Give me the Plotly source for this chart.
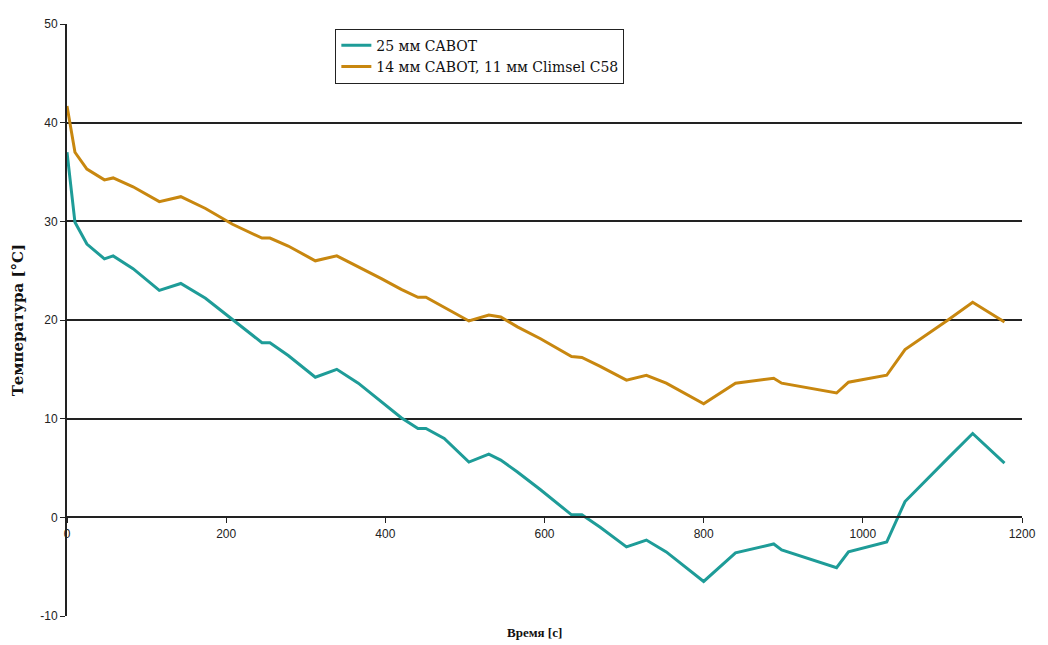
import plotly.graph_objects as go

# Time points [s] shared by both measurement series
time_s = [0, 10, 25, 47, 58, 83, 116, 143, 174, 208, 245, 255, 278, 312, 339,
          366, 395, 420, 441, 451, 474, 505, 530, 545, 566, 595, 634, 647, 670,
          703, 728, 753, 800, 840, 888, 898, 967, 982, 1030, 1053, 1107, 1138,
          1178]

# 25 mm CABOT
temp_cabot25 = [37.0, 29.9, 27.7, 26.2, 26.5, 25.2, 23.0, 23.7, 22.2, 20.0,
                17.7, 17.7, 16.4, 14.2, 15.0, 13.6, 11.7, 10.1, 9.0, 9.0, 8.0,
                5.6, 6.4, 5.8, 4.6, 2.8, 0.25, 0.25, -1.0, -3.0, -2.3, -3.5,
                -6.5, -3.6, -2.7, -3.3, -5.1, -3.5, -2.5, 1.6, 6.0, 8.5, 5.5]

# 14 mm CABOT + 11 mm Climsel C58
temp_cabot14_c58 = [41.7, 37.0, 35.3, 34.2, 34.4, 33.5, 32.0, 32.5, 31.3, 29.7,
                    28.3, 28.3, 27.5, 26.0, 26.5, 25.4, 24.2, 23.1, 22.3, 22.3,
                    21.3, 19.9, 20.5, 20.3, 19.3, 18.1, 16.3, 16.2, 15.3, 13.9,
                    14.4, 13.6, 11.5, 13.6, 14.1, 13.6, 12.6, 13.7, 14.4, 17.0,
                    20.0, 21.8, 19.8]

series_names = ["25 мм CABOT", "14 мм CABOT, 11 мм Climsel C58"]
series_colors = ["#1E9C98", "#C8870F"]

x_ticks = [0, 200, 400, 600, 800, 1000, 1200]
y_ticks = [-10, 0, 10, 20, 30, 40, 50]
y_tick_labels = ["-10", "0", "10", "20", "30", "40", "50"]
grid_levels = [10, 20, 30, 40]

fig = go.Figure()
for name, ys, col in zip(series_names, [temp_cabot25, temp_cabot14_c58], series_colors):
    fig.add_trace(go.Scatter(
        x=time_s, y=ys, mode="lines", name=name,
        line=dict(color=col, width=3),
    ))

# invisible trace to drive the grid-only overlay axis
fig.add_trace(go.Scatter(x=[None], y=[None], yaxis="y2", showlegend=False,
                         hoverinfo="skip"))

tick_font = dict(family="Liberation Sans, Arial, sans-serif", size=12, color="#222")
serif = "Liberation Serif, Times New Roman, serif"
wide_serif = "DejaVu Serif, serif"

fig.update_layout(
    width=1048, height=645,
    margin=dict(l=67, r=20, t=24, b=29),
    paper_bgcolor="white", plot_bgcolor="white",
    showlegend=True,
    legend=dict(
        x=0.281, y=0.992, xanchor="left", yanchor="top",
        bgcolor="white", bordercolor="#222", borderwidth=1,
        font=dict(family=wide_serif, size=14, color="#111"),
        itemwidth=30, tracegroupgap=0,
    ),
    xaxis=dict(
        range=[0, 1200], tickvals=x_ticks, ticks="outside", ticklen=5,
        tickcolor="#222", showline=True, linecolor="#222", linewidth=2,
        showgrid=False, zeroline=False, tickfont=tick_font,
        anchor="free", position=1/6,
    ),
    yaxis=dict(
        range=[-10, 50], tickvals=y_ticks, ticktext=y_tick_labels,
        ticks="outside", ticklen=5,
        tickcolor="#222", showline=True, linecolor="#222", linewidth=2,
        showgrid=False, zeroline=False, tickfont=tick_font,
    ),
    yaxis2=dict(
        range=[-10, 50], overlaying="y", tickvals=grid_levels,
        showticklabels=False, showgrid=True, gridcolor="#222", gridwidth=2,
        zeroline=False, showline=False, ticks="",
    ),
    annotations=[
        dict(text="<b>Время [с]</b>", xref="paper", yref="paper",
             x=0.49, y=-0.028, xanchor="center", yanchor="middle",
             showarrow=False, font=dict(family=serif, size=13, color="#111")),
        dict(text="<b>Температура [°С]</b>", xref="paper", yref="paper",
             x=-0.051, y=0.5, xanchor="center", yanchor="middle",
             textangle=-90, showarrow=False,
             font=dict(family=wide_serif, size=15, color="#111")),
    ],
)

fig.write_html("out.html")
